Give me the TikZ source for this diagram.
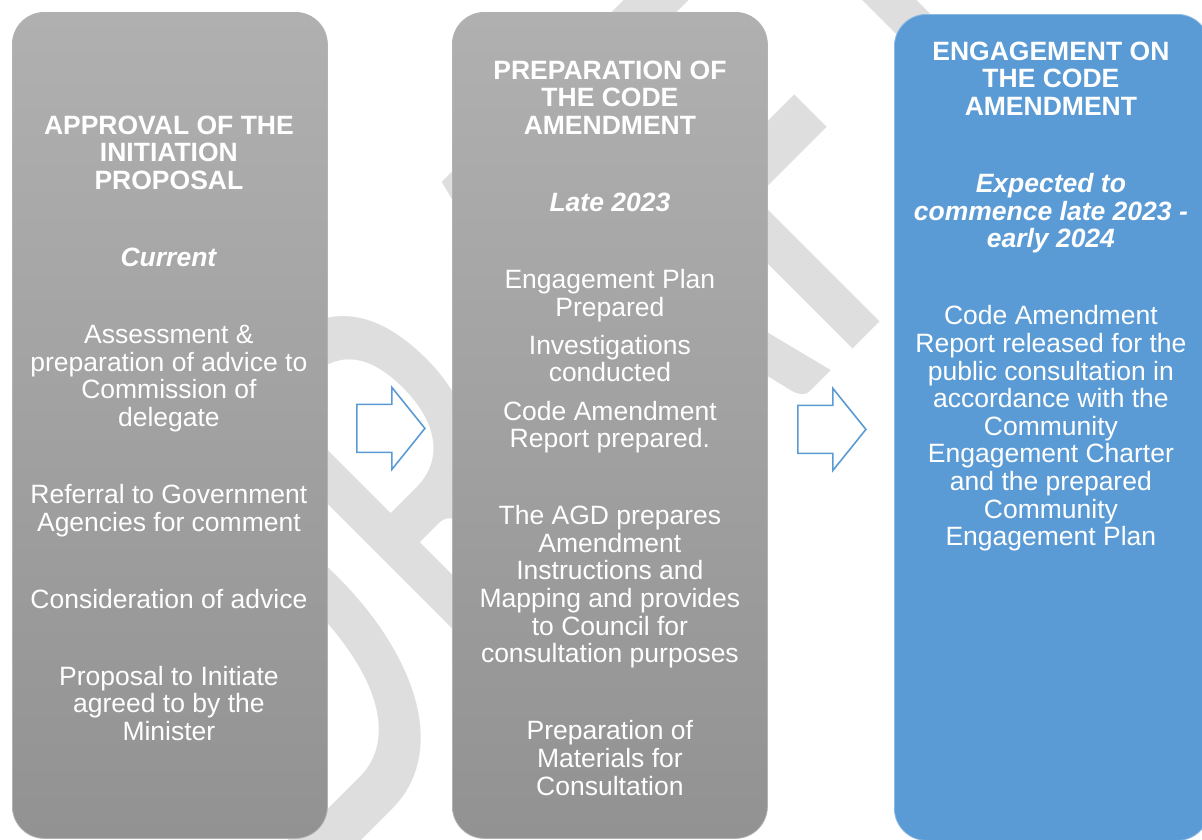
\documentclass[tikz,border=0pt]{standalone}
\usepackage{fontspec}
\setmainfont{Liberation Sans}
\newfontfamily\markfont{Carlito}
\usetikzlibrary{calc}

\definecolor{boxtop}{RGB}{176,176,176}
\definecolor{boxbottom}{RGB}{146,146,146}
\definecolor{stageblue}{RGB}{91,155,213}
\definecolor{markgray}{RGB}{222,222,222}

\tikzset{
  boxbase/.style={rectangle, rounded corners=32pt, minimum width=315pt,
    minimum height=826pt, inner sep=0pt, line width=0.8pt},
  greybox/.style={boxbase, draw=gray!60, top color=boxtop, bottom color=boxbottom},
  bluebox/.style={boxbase, draw=stageblue!70!white, fill=stageblue},
  stagetext/.style={text=white, align=center, inner sep=0pt,
    font=\fontsize{26.5}{27.6}\selectfont},
  steparrow/.style={draw=stageblue, fill=white, line width=1.6pt},
}

\begin{document}
\begin{tikzpicture}[x=1pt, y=-1pt]
  \clip (0,0) rectangle (1202,839);

  % watermark behind everything
  \node[text=markgray, font=\markfont\fontsize{430}{430}\selectfont,
    rotate=45, yscale=1.48, anchor=base] (draftmark) at (712,490) {DRAFT};

  % the three stages
  \node[greybox, anchor=north west] (approval) at (12,12) {};
  \node[greybox, anchor=north west] (preparation) at (452,12) {};
  \node[bluebox, anchor=north west] (engagement) at (894,14) {};

  \node[stagetext, anchor=north] (approvaltext) at ($(approval.north)+(-1,103.5)$) {%
    \textbf{APPROVAL OF THE}\\ \textbf{INITIATION}\\ \textbf{PROPOSAL}\\[49.5pt]
    \textbf{\textit{Current}}\\[49.5pt]
    Assessment \&\\ preparation of advice to\\ Commission of\\ delegate\\[49.5pt]
    Referral to Government\\ Agencies for comment\\[49.5pt]
    Consideration of advice\\[49.5pt]
    Proposal to Initiate\\ agreed to by the\\ Minister};

  \node[stagetext, anchor=north] (preparationtext) at ($(preparation.north)+(0,48.5)$) {%
    \textbf{PREPARATION OF}\\ \textbf{THE CODE}\\ \textbf{AMENDMENT}\\[49.5pt]
    \textbf{\textit{Late 2023}}\\[49.5pt]
    Engagement Plan\\ Prepared\\[10.5pt]
    Investigations\\ conducted\\[10.5pt]
    Code Amendment\\ Report prepared.\\[49.5pt]
    The AGD prepares\\ Amendment\\ Instructions and\\ Mapping and provides\\
    to Council for\\ consultation purposes\\[49.5pt]
    Preparation of\\ Materials for\\ Consultation};

  \node[stagetext, anchor=north] (engagementtext) at ($(engagement.north)+(-1,27.5)$) {%
    \textbf{ENGAGEMENT ON}\\ \textbf{THE CODE}\\ \textbf{AMENDMENT}\\[49.5pt]
    \textbf{\textit{Expected to}}\\ \textbf{\textit{commence late 2023 -}}\\
    \textbf{\textit{early 2024}}\\[49.5pt]
    Code Amendment\\ Report released for the\\ public consultation in\\
    accordance with the\\ Community\\ Engagement Charter\\ and the prepared\\
    Community\\ Engagement Plan};

  % block arrows between the stages
  \coordinate (arrowA) at ($(approval.east)!0.5!(preparation.west)+(0,3)$);
  \coordinate (arrowB) at ($(preparation.east)!0.5!(engagement.west)+(0,3)$);
  \draw[steparrow, shift={(arrowA)}] (-33,-24) -- (2,-24) -- (2,-41) -- (35,0)
    -- (2,41) -- (2,24) -- (-33,24) -- cycle;
  \draw[steparrow, shift={(arrowB)}] (-33,-24) -- (2,-24) -- (2,-41) -- (35,0)
    -- (2,41) -- (2,24) -- (-33,24) -- cycle;
\end{tikzpicture}
\end{document}
